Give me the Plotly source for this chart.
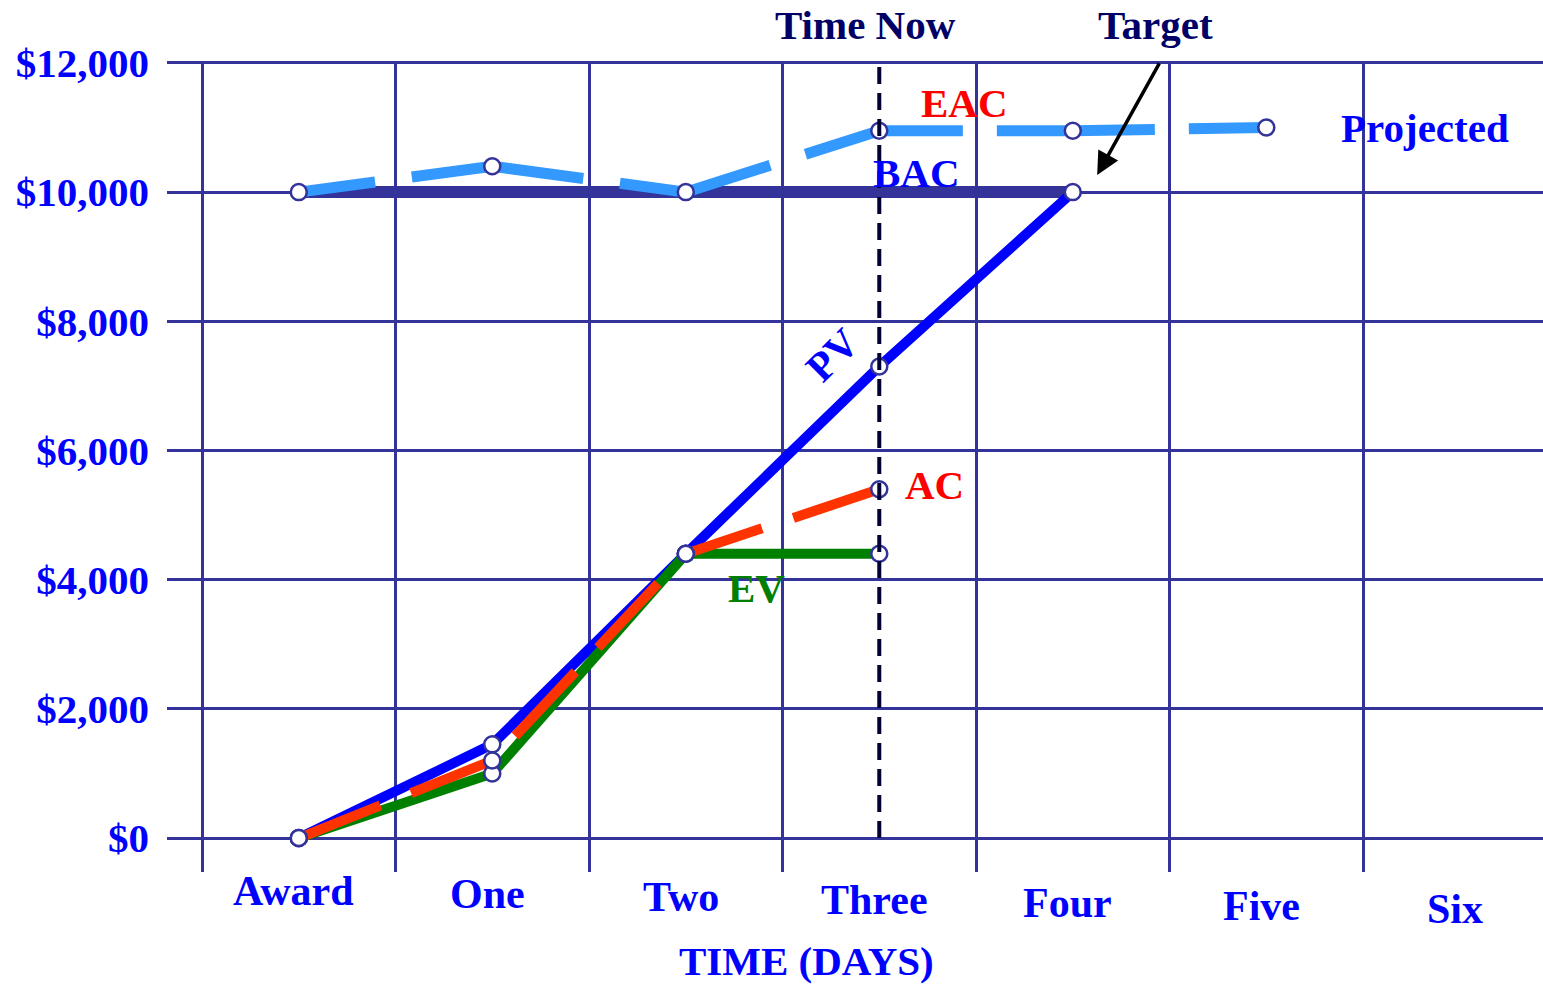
import plotly.graph_objects as go

# ---- data ----
categories = ["Award", "One", "Two", "Three", "Four", "Five", "Six"]
days = [0, 1, 2, 3, 4, 5]

pv_values = [0, 1450, 4400, 7300, 10000]          # Planned Value
ac_values = [0, 1200, 4400, 5400]                 # Actual Cost
ev_values = [0, 1000, 4400, 4400]                 # Earned Value
bac_values = [10000, 10000, 10000, 10000, 10000]  # Budget at Completion
projected_values = [10000, 10400, 10000, 10950, 10950, 11000]  # EAC projection

time_now = 3
y_ticks = [0, 2000, 4000, 6000, 8000, 10000, 12000]
y_ticktext = ["$0", "$2,000", "$4,000", "$6,000", "$8,000", "$10,000", "$12,000"]

# ---- style ----
FONT = "Liberation Serif"
GRID = "#333399"
BLUE = "#0000ff"
RED = "#ff0000"
NAVY = "#000066"
GREEN = "#008000"

fig = go.Figure()

fig.add_trace(go.Scatter(x=days[:5], y=bac_values, mode="lines",
                         line=dict(color="#333399", width=12), hoverinfo="skip"))
fig.add_trace(go.Scatter(x=days[:6], y=projected_values, mode="lines",
                         line=dict(color="#3399ff", width=11,
                                   dash="77px,37px,173px,37px,155px,37px,161px,34px,158px,34px,200px"),
                         hoverinfo="skip"))
fig.add_trace(go.Scatter(x=days[:5], y=pv_values, mode="lines",
                         line=dict(color="#0000ff", width=10), hoverinfo="skip"))
fig.add_trace(go.Scatter(x=days[:4], y=ev_values, mode="lines",
                         line=dict(color="#008000", width=10), hoverinfo="skip"))
fig.add_trace(go.Scatter(x=days[:4], y=ac_values, mode="lines",
                         line=dict(color="#ff3300", width=10, dash="88px,33px"),
                         hoverinfo="skip"))

marker_style = dict(symbol="circle", size=16, color="white",
                    line=dict(color="#333399", width=2.5))
for xs, ys in [(days[:6], projected_values), (days[:5], pv_values),
               (days[:4], ev_values), (days[:4], ac_values)]:
    fig.add_trace(go.Scatter(x=xs, y=ys, mode="markers", marker=marker_style,
                             hoverinfo="skip"))

# Time Now line
fig.add_shape(type="line", xref="x", yref="y", x0=time_now, x1=time_now,
              y0=0, y1=12000, line=dict(color="#000033", width=4, dash="17px,9px"))

def txt(text, x, y, color, angle=0, size=41, yref="y"):
    fig.add_annotation(text=text, x=x, y=y, xref="x", yref=yref, showarrow=False,
                       textangle=angle, xanchor="center", yanchor="middle",
                       font=dict(family=FONT, size=size, color=color, weight="bold"))

txt("Time Now", 2.93, 1.045, NAVY, yref="paper")
txt("Target", 4.43, 1.045, NAVY, yref="paper")
txt("EAC", 3.44, 11381, RED)
txt("Projected", 5.82, 10994, BLUE)
txt("BAC", 3.19, 10297, BLUE)
txt("PV", 2.756, 7479, BLUE, angle=-45)
txt("AC", 3.283, 5466, RED)
txt("EV", 2.363, 3871, GREEN)

# Target arrow
fig.add_annotation(text="", x=4.126, y=10266, xref="x", yref="y", showarrow=True,
                   ax=63, ay=-113, arrowhead=2, arrowsize=1.3, arrowwidth=3.5,
                   arrowcolor="black")

# category labels (slightly stepped, as in the original slide)
for i, name in enumerate(categories):
    fig.add_annotation(text=name, x=i, y=0, xref="x", yref="paper", showarrow=False,
                       xanchor="center", yanchor="middle", xshift=-5, yshift=-(19 + 3 * i),
                       font=dict(family=FONT, size=42, color=BLUE, weight="bold"))

# x axis title
fig.add_annotation(text="TIME (DAYS)", x=0.465, y=-0.1097, xref="paper", yref="paper",
                   showarrow=False, xanchor="center", yanchor="middle",
                   font=dict(family=FONT, size=41, color=BLUE, weight="bold"))

fig.update_layout(
    width=1543, height=985,
    margin=dict(l=167, r=0, t=61, b=113),
    paper_bgcolor="white", plot_bgcolor="white",
    showlegend=False,
    xaxis=dict(range=[-0.681, 6.43], tickmode="array", tickvals=list(range(7)),
               ticktext=[""] * 7, showgrid=False, zeroline=False, showline=False,
               ticks="",
               minor=dict(tickmode="array", tickvals=[-0.5, 0.5, 1.5, 2.5, 3.5, 4.5, 5.5],
                          showgrid=True, gridcolor=GRID, gridwidth=2.5, ticks="")),
    yaxis=dict(range=[-526, 12030], tickmode="array", tickvals=y_ticks,
               ticktext=y_ticktext, showgrid=True, gridcolor=GRID, gridwidth=2.5,
               zeroline=True, zerolinecolor=GRID, zerolinewidth=2.5, showline=False,
               ticks="", ticklabelstandoff=17,
               tickfont=dict(family=FONT, size=41, color=BLUE, weight="bold")),
)

fig.write_html("out.html", config={"displayModeBar": False},
               post_script="document.body.style.margin='0';")
